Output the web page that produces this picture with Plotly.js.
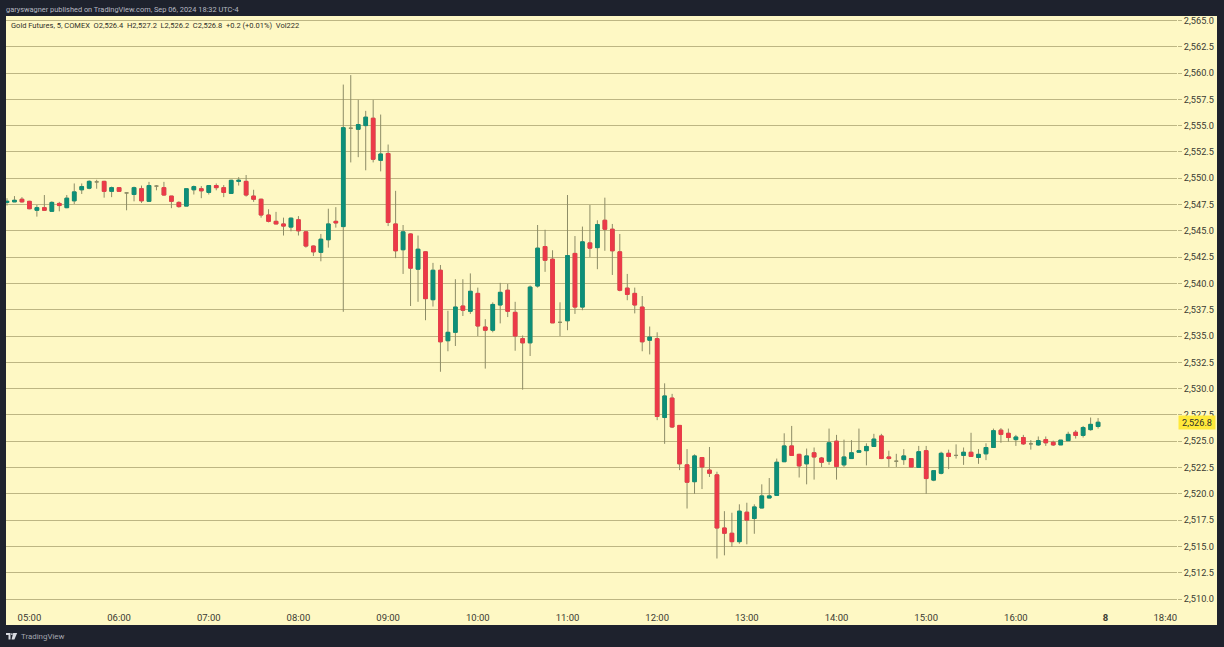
<!DOCTYPE html>
<html><head><meta charset="utf-8">
<script src="https://cdn.plot.ly/plotly-3.0.1.min.js"></script>
<style>html,body{margin:0;padding:0;background:#1e222d;overflow:hidden}#c{width:1224px;height:647px}</style>
</head><body><div id="c"></div>
<script>
const startTime = Date.UTC(2024, 8, 6, 4, 45);
const barMinutes = 5;
const open = [2547.7,2547.75,2548.0,2547.8,2546.95,2547.2,2546.85,2547.6,2547.2,2547.85,
2548.9,2549.05,2549.65,2549.7,2548.75,2549.1,2548.6,2548.45,2549.0,2547.8,
2549.25,2549.1,2548.3,2547.7,2547.35,2548.9,2549.0,2548.65,2549.3,2549.1,
2548.55,2549.7,2549.7,2548.3,2548.0,2546.5,2545.9,2545.65,2545.35,2546.05,
2544.9,2543.55,2542.95,2544.15,2545.9,2545.4,2554.75,2554.65,2555.0,2555.7,
2551.7,2552.35,2545.65,2543.2,2544.7,2541.35,2543.0,2538.45,2541.25,2534.55,
2535.35,2537.85,2537.35,2539.05,2535.85,2535.55,2537.95,2539.35,2537.25,2534.75,
2534.35,2539.75,2543.5,2542.3,2536.3,2536.45,2542.85,2537.75,2543.85,2543.4,
2546.0,2545.15,2543.0,2539.55,2539.05,2537.75,2534.6,2534.75,2527.25,2529.1,
2526.5,2522.75,2521.15,2523.45,2522.25,2521.8,2516.75,2516.25,2515.45,2518.25,
2517.65,2518.65,2519.6,2519.85,2523.05,2524.55,2523.75,2522.85,2523.9,2523.4,
2523.1,2525.0,2522.75,2523.35,2523.95,2524.1,2524.5,2525.5,2523.5,2523.1,
2523.25,2523.35,2522.5,2524.1,2521.3,2521.95,2523.85,2523.65,2523.65,2523.95,
2523.45,2523.8,2524.4,2526.05,2525.75,2525.15,2525.35,2524.75,2524.65,2525.15,
2524.9,2524.65,2525.05,2525.85,2525.55,2526.1,2526.4];
const high = [2548.1,2548.3,2548.2,2547.85,2547.45,2548.4,2547.8,2547.75,2548.4,2549.5,
2549.5,2549.8,2549.85,2549.75,2549.2,2549.15,2548.6,2549.2,2549.3,2549.65,
2549.35,2549.65,2548.3,2547.8,2549.0,2549.3,2549.25,2549.35,2549.5,2549.35,
2549.85,2550.1,2550.3,2548.9,2548.05,2547.05,2546.8,2546.25,2546.25,2546.4,
2544.95,2543.6,2544.7,2547.1,2547.25,2558.9,2559.8,2557.45,2556.4,2557.45,
2556.05,2553.2,2548.8,2545.55,2544.75,2544.55,2543.05,2541.95,2541.75,2537.4,
2540.4,2540.4,2540.95,2539.6,2536.6,2538.2,2540.05,2539.95,2538.25,2535.05,
2539.8,2545.55,2545.1,2543.15,2538.2,2548.4,2544.5,2545.4,2547.45,2546.0,
2548.15,2545.65,2544.7,2540.9,2539.6,2538.8,2535.9,2535.35,2530.5,2529.5,
2526.5,2524.25,2523.75,2523.5,2524.45,2522.1,2518.35,2518.2,2519.0,2519.15,
2519.0,2520.9,2521.5,2523.35,2525.75,2526.45,2523.8,2524.3,2524.4,2523.5,
2526.2,2525.6,2525.15,2525.1,2526.2,2524.8,2525.7,2525.7,2524.1,2523.8,
2524.25,2523.4,2524.55,2524.55,2522.25,2524.0,2524.2,2524.7,2524.4,2525.8,
2524.25,2524.8,2526.2,2526.25,2526.2,2525.6,2525.6,2525.1,2525.45,2525.45,
2525.05,2525.1,2525.9,2526.05,2526.45,2527.25,2527.2];
const low = [2547.4,2547.75,2547.7,2547.05,2546.35,2546.95,2546.85,2546.85,2547.15,2547.55,
2548.5,2548.95,2549.0,2548.15,2548.2,2548.75,2546.95,2547.8,2547.65,2547.75,
2548.85,2548.35,2547.15,2547.2,2547.35,2548.45,2548.1,2548.45,2548.85,2548.2,
2548.55,2549.3,2548.25,2547.75,2546.25,2545.8,2545.65,2544.55,2544.95,2544.55,
2543.4,2542.6,2542.1,2543.4,2545.3,2537.3,2551.5,2552.0,2550.75,2551.5,
2550.65,2545.45,2542.4,2540.9,2537.85,2538.25,2536.5,2537.8,2531.6,2533.55,
2534.05,2536.9,2537.1,2535.0,2531.9,2535.35,2536.2,2536.8,2533.6,2529.9,
2533.1,2539.6,2541.1,2536.25,2535.0,2535.55,2537.1,2537.45,2542.5,2541.35,
2543.1,2540.8,2539.25,2538.4,2537.15,2533.55,2533.25,2527.0,2524.75,2526.25,
2522.25,2518.6,2520.0,2520.45,2521.6,2513.85,2514.15,2514.95,2515.25,2515.2,
2516.2,2518.65,2519.6,2519.85,2523.05,2523.65,2521.55,2520.9,2521.35,2522.55,
2522.75,2521.35,2522.55,2523.35,2523.95,2522.7,2524.5,2523.3,2522.55,2522.55,
2522.75,2522.55,2522.5,2520.0,2521.2,2521.85,2522.35,2523.35,2522.75,2523.55,
2522.85,2523.2,2524.4,2524.85,2524.95,2524.55,2524.65,2524.2,2524.55,2524.55,
2524.55,2524.65,2525.05,2525.25,2525.35,2526.0,2526.2];
const close = [2547.8,2547.9,2547.75,2547.1,2547.2,2546.95,2547.7,2547.4,2548.1,2548.7,
2549.2,2549.7,2549.65,2548.75,2549.1,2548.75,2548.6,2549.1,2547.85,2549.3,
2549.25,2548.4,2547.8,2547.3,2549.0,2549.2,2548.8,2549.3,2549.1,2548.65,
2549.8,2549.8,2548.4,2548.0,2546.5,2545.9,2545.65,2545.45,2546.2,2545.0,
2543.55,2543.0,2544.2,2545.65,2545.75,2554.8,2554.75,2555.1,2555.8,2551.8,
2552.3,2545.8,2543.1,2544.9,2541.45,2543.25,2538.55,2541.25,2534.45,2535.35,
2537.75,2537.45,2539.25,2535.95,2535.55,2538.0,2539.15,2537.35,2535.0,2534.35,
2539.65,2543.35,2542.2,2536.25,2536.3,2542.65,2537.75,2543.95,2543.35,2545.6,
2545.15,2543.1,2539.35,2538.95,2537.95,2534.45,2534.9,2527.35,2529.3,2526.35,
2522.85,2521.1,2523.6,2522.55,2521.95,2516.75,2516.25,2515.45,2518.35,2517.5,
2518.75,2519.8,2519.8,2523.0,2524.55,2523.65,2522.65,2523.6,2523.5,2523.0,
2524.85,2522.6,2523.5,2523.9,2524.1,2524.5,2525.2,2523.35,2523.35,2523.1,
2523.6,2522.55,2524.0,2521.45,2522.2,2523.85,2523.55,2523.65,2523.95,2523.55,
2523.75,2524.4,2526.0,2525.65,2525.35,2525.4,2524.75,2524.75,2525.05,2524.85,
2524.65,2525.1,2525.65,2525.55,2526.3,2526.6,2526.8];
const priceTicks = [2510,2512.5,2515,2517.5,2520,2522.5,2525,2527.5,2530,2532.5,2535,2537.5,2540,2542.5,2545,2547.5,2550,2552.5,2555,2557.5,2560,2562.5,2565];
const timeTickHours = ["05:00","06:00","07:00","08:00","09:00","10:00","11:00","12:00","13:00","14:00","15:00","16:00","17:00","17:40"];
const timeTickLabels = ["05:00","06:00","07:00","08:00","09:00","10:00","11:00","12:00","13:00","14:00","15:00","16:00","<b>8</b>","18:40"];
const lastPrice = 2526.8;
const headerText = "garyswagner published on TradingView.com, Sep 06, 2024 18:32 UTC-4";
const legendText = "Gold Futures, 5, COMEX&nbsp;&nbsp;O2,526.4&nbsp;&nbsp;H2,527.2&nbsp;&nbsp;L2,526.2&nbsp;&nbsp;C2,526.8&nbsp;&nbsp;+0.2 (+0.01%)&nbsp;&nbsp;Vol222";

const W=1224,H=647,L=6,R=1177,T=16,B=606;
const green="#0e8f78",red="#ec3a48",wick="#8d8c66",grid="#bdb683",cream="#fef8c4",dark="#1e222d";
const y0px=599,pxPerUnit=10.52;
const times=open.map((_,i)=>new Date(startTime+i*barMinutes*60000).toISOString().slice(0,19));
const px=v=>(v-L)/(R-L), py=v=>(B-v)/(B-T);
const bodyO=open.map((v,i)=>v===close[i]?null:v), bodyC=close.map((v,i)=>v===open[i]?null:v);
const bodyH=open.map((v,i)=>v===close[i]?null:Math.max(v,close[i])), bodyL=open.map((v,i)=>v===close[i]?null:Math.min(v,close[i]));
const bw=5*60000*5.2/7.473;
const traces=[
 {type:"candlestick",x:times,open:open,high:high,low:low,close:close,width:bw,whiskerwidth:0,hoverinfo:"skip",showlegend:false,
  increasing:{line:{color:wick,width:1},fillcolor:wick},decreasing:{line:{color:wick,width:1},fillcolor:wick}},
 {type:"candlestick",x:times,open:bodyO,high:bodyH,low:bodyL,close:bodyC,width:bw,whiskerwidth:0,hoverinfo:"skip",showlegend:false,
  increasing:{line:{color:green,width:1},fillcolor:green},decreasing:{line:{color:red,width:1},fillcolor:red}}
];
const tickX=timeTickHours.map(s=>"2024-09-06T"+s+":00");
const f=(s,c)=>({family:"Roboto, sans-serif",size:s,color:c});
const layout={
 width:W,height:H,autosize:false,showlegend:false,
 paper_bgcolor:dark,plot_bgcolor:cream,dragmode:false,
 margin:{l:L,r:W-R,t:T,b:H-B,pad:0},
 xaxis:{type:"date",range:[new Date(startTime-40000).toISOString(),new Date(startTime+156.56*300000).toISOString()],
  rangeslider:{visible:false},showgrid:false,zeroline:false,showline:false,ticks:"outside",ticklen:3,tickcolor:"rgba(0,0,0,0)",tickmode:"array",tickvals:tickX,ticktext:timeTickLabels,tickfont:f(9.5,"#3a3a32"),tickangle:0,automargin:false},
 yaxis:{side:"right",range:[2510+(y0px-B)/pxPerUnit,2510+(y0px-T)/pxPerUnit],tickmode:"array",tickvals:priceTicks,ticktext:priceTicks.map(v=>v.toLocaleString("en-US",{minimumFractionDigits:1})),
  showgrid:true,gridcolor:grid,gridwidth:1,zeroline:false,showline:false,ticks:"outside",ticklen:4,tickwidth:1,tickcolor:grid,tickfont:f(9.2,"#3a3a32"),automargin:false},
 shapes:[
  {type:"rect",xref:"paper",yref:"paper",x0:0,x1:px(1217),y0:py(625),y1:py(16),fillcolor:cream,line:{width:0},layer:"below"},
  {type:"path",xref:"paper",yref:"paper",layer:"above",fillcolor:"#d8dae0",line:{width:0},
   path:`M ${px(6)} ${py(633)} L ${px(10.5)} ${py(633)} L ${px(10.5)} ${py(639.5)} L ${px(8.5)} ${py(639.5)} L ${px(8.5)} ${py(635)} L ${px(6)} ${py(635)} Z`},
  {type:"circle",xref:"paper",yref:"paper",layer:"above",fillcolor:"#d8dae0",line:{width:0},x0:px(11),x1:px(12.8),y0:py(635),y1:py(633.2)},
  {type:"path",xref:"paper",yref:"paper",layer:"above",fillcolor:"#d8dae0",line:{width:0},
   path:`M ${px(13.2)} ${py(633)} L ${px(17.2)} ${py(633)} L ${px(14.4)} ${py(639.5)} L ${px(11.6)} ${py(639.5)} Z`}
 ],
 annotations:[
  {xref:"paper",yref:"paper",x:0,y:py(9),text:headerText,showarrow:false,xanchor:"left",yanchor:"middle",xshift:-2,font:f(7.4,"#b6b9c2")},
  {xref:"paper",yref:"paper",x:px(11),y:py(25.5),text:legendText,showarrow:false,xanchor:"left",yanchor:"middle",xshift:-2,font:f(7.5,"#2f2f28")},
  {xref:"paper",yref:"paper",x:px(21),y:py(636.5),text:"TradingView",showarrow:false,xanchor:"left",yanchor:"middle",xshift:-2,font:f(7.9,"#a3a6af")},
  {xref:"paper",yref:"y",x:px(1178),y:lastPrice,text:"2,526.8",showarrow:false,xanchor:"left",yanchor:"middle",bgcolor:"#ffe93b",borderpad:1,width:34,height:11,align:"center",font:f(9.2,"#2f2f28")}
 ]
};
Plotly.newPlot("c",traces,layout,{displayModeBar:false,staticPlot:true});
</script></body></html>
